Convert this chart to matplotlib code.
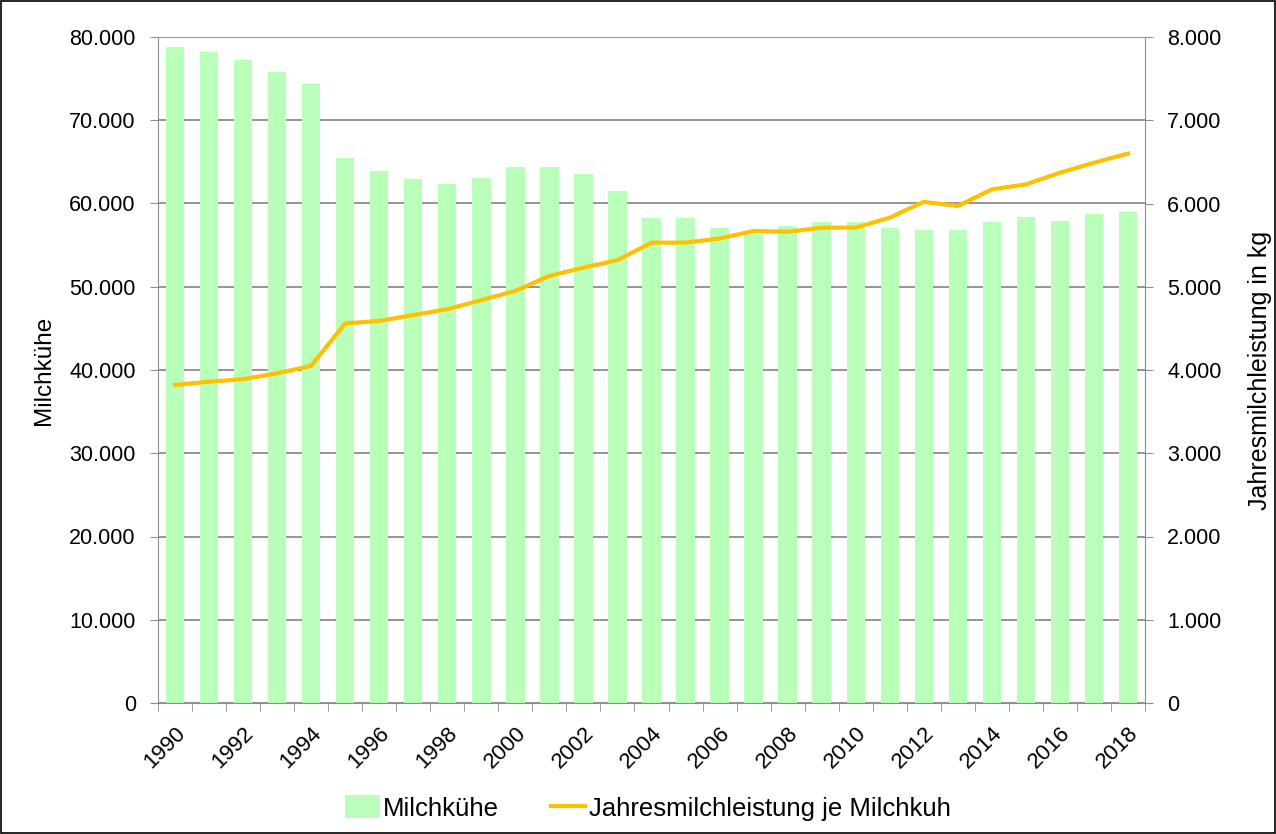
import matplotlib
matplotlib.use("Agg")
import matplotlib.pyplot as plt
from matplotlib.patches import Rectangle, Patch
from matplotlib.lines import Line2D
from matplotlib.ticker import FuncFormatter, FixedLocator

years = list(range(1990, 2019))
milchkuehe = [78800, 78200, 77200, 75800, 74400, 65500, 63900, 62900, 62300, 63100,
              64400, 64400, 63500, 61500, 58200, 58200, 57100, 56400, 57300, 57800,
              57800, 57100, 56800, 56800, 57800, 58400, 57900, 58700, 59000]
leistung = [3820, 3860, 3890, 3960, 4050, 4560, 4590, 4660, 4730, 4840,
            4950, 5130, 5230, 5320, 5530, 5530, 5580, 5670, 5660, 5710,
            5710, 5830, 6020, 5970, 6170, 6230, 6370, 6490, 6600]

bar_color = "#b9ffb9"
line_color = "#ffc000"
grid_color = "#8c8c8c"
lab_font = ["Liberation Sans", "DejaVu Sans"]

plt.rcParams["font.family"] = lab_font

fig = plt.figure(figsize=(12.76, 8.34), dpi=100)
ax = fig.add_axes([158/1276, 1-703/834, (1145-158)/1276, (703-37)/834])
ax2 = ax.twinx()

x = list(range(len(years)))
ax.bar(x, milchkuehe, width=0.54, color=bar_color, zorder=2)
ax2.plot(x, leistung, color=line_color, lw=3, zorder=3)

ax.set_xlim(-0.5, len(years) - 0.5)
ax.set_ylim(0, 80000)
ax2.set_ylim(0, 8000)
ax.set_yticks(range(0, 80001, 10000))
ax2.set_yticks(range(0, 8001, 1000))

def fmt(v, pos):
    return "0" if v == 0 else f"{int(v):,}".replace(",", ".")

ax.yaxis.set_major_formatter(FuncFormatter(fmt))
ax2.yaxis.set_major_formatter(FuncFormatter(fmt))

ax.yaxis.grid(True, color=grid_color, lw=1.3, zorder=0)
ax.set_axisbelow(True)

for a in (ax, ax2):
    for s in a.spines.values():
        s.set_visible(False)
ax.spines["left"].set_visible(True)
ax.spines["left"].set_color(grid_color)
ax.spines["bottom"].set_visible(True)
ax.spines["bottom"].set_color(grid_color)
ax2.spines["right"].set_visible(True)
ax2.spines["right"].set_color(grid_color)

for a in (ax, ax2):
    a.tick_params(axis="y", direction="out", length=6, color=grid_color, labelsize=15.5, pad=10)

ax.xaxis.set_minor_locator(FixedLocator([i - 0.5 for i in range(len(years) + 1)]))
ax.set_xticks([i for i, y in enumerate(years) if y % 2 == 0])
ax.set_xticklabels([str(y) for y in years if y % 2 == 0], rotation=45, ha="right",
                   rotation_mode="anchor", fontsize=16)
ax.tick_params(axis="x", which="major", length=0, pad=14)
ax.tick_params(axis="x", which="minor", length=6, color=grid_color, direction="out")

ax.set_ylabel("Milchkühe", fontsize=17.5, labelpad=10)
ax2.set_ylabel("Jahresmilchleistung in kg", fontsize=18, labelpad=19)

handles = [Patch(facecolor=bar_color, edgecolor="none"),
           Line2D([0], [0], color=line_color, lw=3)]
fig.legend(handles, ["Milchkühe", "Jahresmilchleistung je Milchkuh"], loc="center",
           bbox_to_anchor=(648/1276, 1-808/834), ncol=2, frameon=False,
           prop={"size": 18.5}, handlelength=1.35, handleheight=1.0,
           handletextpad=0.15, columnspacing=2.0)

fig.patches.append(Rectangle((0.001, 0.001), 0.998, 0.998, transform=fig.transFigure,
                             fill=False, edgecolor="black", lw=1.2))

fig.savefig("out.png", dpi=100)
